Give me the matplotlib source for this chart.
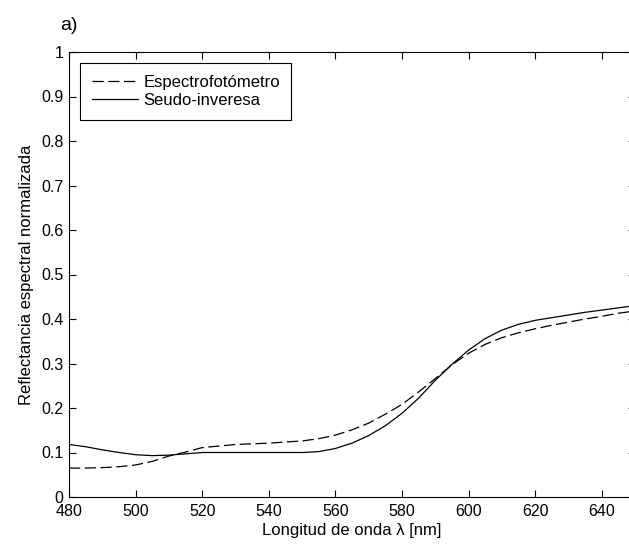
import matplotlib.pyplot as plt

plt.rcParams['font.family'] = ['Liberation Sans', 'DejaVu Sans']

# longitud de onda [nm]
wl = [480, 485, 490, 495, 500, 505, 510, 515, 520, 530, 540, 550, 555, 560, 565,
      570, 575, 580, 585, 590, 595, 600, 605, 610, 615, 620, 625, 630, 635, 640,
      645, 650]

espectro = [0.065, 0.065, 0.066, 0.068, 0.072, 0.080, 0.092, 0.101, 0.111, 0.118,
            0.121, 0.126, 0.131, 0.139, 0.151, 0.166, 0.186, 0.208, 0.236, 0.266,
            0.297, 0.323, 0.343, 0.358, 0.369, 0.378, 0.386, 0.393, 0.400, 0.406,
            0.413, 0.418]

seudo = [0.118, 0.113, 0.106, 0.100, 0.095, 0.093, 0.094, 0.097, 0.100, 0.100,
         0.100, 0.100, 0.102, 0.109, 0.121, 0.138, 0.160, 0.188, 0.222, 0.262,
         0.298, 0.330, 0.356, 0.375, 0.388, 0.397, 0.403, 0.409, 0.415, 0.420,
         0.425, 0.430]

yticks = [0, 0.1, 0.2, 0.3, 0.4, 0.5, 0.6, 0.7, 0.8, 0.9, 1]
ylabels = ['0', '0.1', '0.2', '0.3', '0.4', '0.5', '0.6', '0.7', '0.8', '0.9', '1']
xticks = [480, 500, 520, 540, 560, 580, 600, 620, 640]

fig = plt.figure(figsize=(6.29, 5.46), dpi=100)
ax = fig.add_axes([69/629, 49/546, 566/629, 445/546])

ax.plot(wl, espectro, color='black', linestyle=(0, (9, 3.6)), linewidth=0.9,
        label='Espectrofotómetro')
ax.plot(wl, seudo, color='black', linestyle='-', linewidth=0.9,
        label='Seudo-inveresa')

ax.set_xlim(480, 650)
ax.set_ylim(0, 1)
ax.set_xticks(xticks)
ax.set_yticks(yticks)
ax.set_yticklabels(ylabels)
ax.tick_params(direction='in', top=True, right=True, length=5, labelsize=11.5)
ax.tick_params(axis='x', pad=5)
ax.tick_params(axis='y', pad=4)
for s in ax.spines.values():
    s.set_linewidth(0.8)

ax.set_xlabel('Longitud de onda λ [nm]', fontsize=12, labelpad=3)
ax.set_ylabel('Reflectancia espectral normalizada', fontsize=12, labelpad=5)

leg = ax.legend(loc='upper left', fontsize=12, fancybox=False, framealpha=1,
                edgecolor='black', borderaxespad=0.65, handlelength=2.8,
                handletextpad=0.3, labelspacing=0.2, borderpad=0.7)
leg.get_frame().set_linewidth(0.8)

fig.text(60/629, 1 - 25/546, 'a)', fontsize=14, va='center', ha='left')

fig.savefig('out.png', dpi=100)
